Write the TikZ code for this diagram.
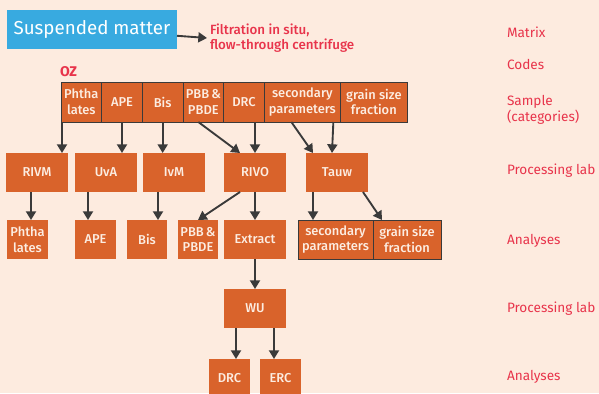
\documentclass[tikz,border=0pt]{standalone}
\usepackage{fontspec}
\setmainfont{Fira Sans}
\newfontfamily\boxfont{Fira Sans Medium}
\usetikzlibrary{arrows.meta,positioning,calc}
\definecolor{peach}{HTML}{FDEBDF}
\definecolor{rust}{HTML}{D9632B}
\definecolor{skyblue}{HTML}{38AAE0}
\definecolor{labelred}{HTML}{E8344B}
\definecolor{cream}{HTML}{FCEDE2}
\definecolor{arrowgrey}{HTML}{3A3A3A}

\begin{document}
\begin{tikzpicture}[x=0.03cm, y=-0.03cm, >={Triangle[length=0.26cm,width=0.3cm]},
  every node/.style={align=center, inner sep=0pt, outer sep=0pt},
  box/.style={fill=rust, text=cream, anchor=north west, minimum height=1.17cm, font=\boxfont\fontsize{11}{13.5}\selectfont},
  lab/.style={box, minimum width=1.86cm},
  cat/.style={box, draw=arrowgrey, line width=0.7pt},
  side/.style={anchor=west, text=labelred, align=left, font=\fontsize{11.6}{14}\selectfont},
  flow/.style={->, draw=arrowgrey, line width=1.6pt}]
  \useasboundingbox (0,0) rectangle (599,393);
  \fill[peach] (0,0) rectangle (599,393);

  % matrix and sampling method
  \node[fill=skyblue, text=white, anchor=north west, minimum width=5.1cm, minimum height=1.17cm, font=\fontsize{16}{19}\selectfont] (susp) at (7,10) {Suspended matter};
  \node[side, font=\boxfont\fontsize{11.4}{13}\selectfont] (filt) at (210,38) {Filtration in situ,\\flow-through centrifuge};
  \draw[flow] (susp) -- ($(filt.west)+(-3,0)$);
  \node[side, font=\fontsize{12}{14}\selectfont\bfseries] (oz) at (60,72) {OZ};

  % sample categories
  \node[cat, minimum width=1.22cm, minimum height=1.2cm] (sPh) at (61,82) {Phtha\\lates};
  \node[cat, minimum width=1.22cm, minimum height=1.2cm, right=0pt of sPh] (sAPE) {APE};
  \node[cat, minimum width=1.22cm, minimum height=1.2cm, right=0pt of sAPE] (sBis) {Bis};
  \node[cat, minimum width=1.22cm, minimum height=1.2cm, right=0pt of sBis] (sPBB) {PBB\,\&\\PBDE};
  \node[cat, minimum width=1.22cm, minimum height=1.2cm, right=0pt of sPBB] (sDRC) {DRC};
  \node[cat, minimum width=2.28cm, minimum height=1.2cm, right=0pt of sDRC] (sSec) {secondary\\parameters};
  \node[cat, minimum width=2.01cm, minimum height=1.2cm, right=0pt of sSec] (sGrain) {grain size\\fraction};

  % processing labs
  \node[lab] (rivm) at (6,153) {RIVM};
  \node[lab] (uva) at (75,153) {UvA};
  \node[lab] (ivm) at (143,153) {IvM};
  \node[lab] (rivo) at (224,153) {RIVO};
  \node[lab] (tauw) at (306,153) {Tauw};

  % analyses
  \node[box, minimum width=1.23cm] (aPh) at (7,220) {Phtha\\lates};
  \node[box, minimum width=1.23cm] (aAPE) at (75,220) {APE};
  \node[box, minimum width=1.2cm] (aBis) at (127,220) {Bis};
  \node[box, minimum width=1.2cm] (aPBB) at (178,220) {PBB\,\&\\PBDE};
  \node[lab] (extract) at (224,220) {Extract};
  \node[cat, minimum width=2.25cm] (aSec) at (298,220) {secondary\\parameters};
  \node[cat, minimum width=2.04cm, right=0pt of aSec] (aGrain) {grain size\\fraction};

  \node[lab] (wu) at (224,289) {WU};
  \node[box, minimum width=1.23cm] (drc) at (209,359) {DRC};
  \node[box, minimum width=1.23cm] (erc) at (260,359) {ERC};

  % level names on the right
  \node[side] (matrix) at (507,32) {Matrix};
  \node[side] (codes) at (507,64) {Codes};
  \node[side] (sample) at (507,110) {Sample\\(categories)};
  \node[side] (plab1) at (507,171) {Processing lab};
  \node[side] (anal1) at (507,241) {Analyses};
  \node[side] (plab2) at (507,309) {Processing lab};
  \node[side] (anal2) at (507,377) {Analyses};

  % samples to labs
  \draw[flow] ($(sPh.south west)+(1,0)$) -- ($(rivm.north west)+(56,0)$);
  \draw[flow] (sAPE.south) -- (sAPE.south |- uva.north);
  \draw[flow] (sBis.south) -- (sBis.south |- ivm.north);
  \draw[flow] ($(sPBB.south)+(-5,0)$) -- ($(rivo.north)+(-15,0)$);
  \draw[flow] (rivo.north |- sDRC.south) -- (rivo.north);
  \draw[flow] ($(sSec.south)+(-11,0)$) -- ($(tauw.north west)+(7,0)$);
  \draw[flow] ($(sSec.south east)+(-7,0)$) -- ($(tauw.north west)+(26,0)$);

  % labs to analyses
  \draw[flow] ($(rivm.south west)+(25,0)$) -- ($(aPh.north west)+(24,0)$);
  \draw[flow] ($(uva.south west)+(13,0)$) -- ($(aAPE.north west)+(13,0)$);
  \draw[flow] ($(ivm.south west)+(15,0)$) -- ($(aBis.north west)+(31,0)$);
  \draw[flow] ($(rivo.south)+(-15,0)$) -- (aPBB.north);
  \draw[flow] (rivo.south) -- (extract.north);
  \draw[flow] ($(tauw.south west)+(7,0)$) -- ($(aSec.north west)+(15,0)$);
  \draw[flow] ($(tauw.south east)+(-5,0)$) -- ($(aGrain.north west)+(9,0)$);

  % extract to WU
  \draw[flow] (extract.south) -- (wu.north);
  \draw[flow] ($(wu.south west)+(12,0)$) -- ($(drc.north west)+(27,0)$);
  \draw[flow] ($(wu.south west)+(50,0)$) -- ($(erc.north west)+(14,0)$);
\end{tikzpicture}
\end{document}
